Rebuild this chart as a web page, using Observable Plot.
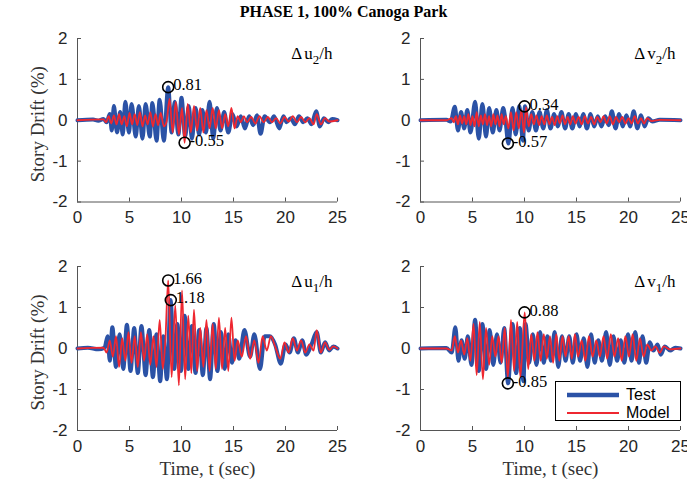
<!DOCTYPE html>
<html>
<head>
<meta charset="utf-8">
<script src="https://cdn.jsdelivr.net/npm/d3@7"></script>
<script src="https://cdn.jsdelivr.net/npm/@observablehq/plot@0.6"></script>
<style>
  html, body { margin: 0; padding: 0; background: #fff; }
  #chart { position: relative; width: 687px; height: 483px; overflow: hidden; background: #fff; }
  #title { position: absolute; left: 0; top: 3px; width: 687px; text-align: center;
           font: bold 16px 'Liberation Serif', 'Times New Roman', serif; color: #000; }
  .panel { position: absolute; }
  #legend { position: absolute; left: 555px; top: 381px; width: 124px; height: 38px;
            border: 1px solid #000; background: #fff; font: 16px 'Liberation Sans', Arial, sans-serif; color: #000; }
  #legend .row { position: absolute; left: 0; height: 18px; display: flex; align-items: center; }
  #legend svg { margin-left: 11px; margin-right: 7px; }
</style>
</head>
<body>
<div id="chart">
  <div id="title">PHASE 1, 100% Canoga Park</div>
</div>
<script>
// ---------------- data ----------------
const xTicks = [0, 5, 10, 15, 20, 25];
const yTicks = [-2, -1, 0, 1, 2];
const seriesNames = ["Test", "Model"];

// Δu2/h  [time (s), drift (%)]
const u2Test = [[0,0],[1.5,0.02],[2.0,-0.01],[2.5,0.03],[2.8,-0.05],[3.1,0.15],[3.3,-0.25],[3.5,0.35],[3.8,-0.3],[4.1,0.2],[4.35,-0.35],[4.6,0.45],[4.95,-0.3],[5.2,0.4],[5.6,-0.4],[5.9,0.35],[6.25,-0.45],[6.55,0.4],[6.95,-0.4],[7.2,0.42],[7.6,-0.5],[7.9,0.5],[8.3,-0.5],[8.72,0.81],[9.05,-0.3],[9.35,0.45],[9.7,-0.35],[10.0,0.55],[10.35,-0.4],[10.7,0.35],[11.0,-0.45],[11.35,0.3],[11.7,-0.35],[12.0,0.25],[12.35,-0.3],[12.7,0.45],[13.05,-0.45],[13.4,0.3],[13.75,-0.25],[14.1,0.2],[14.5,-0.3],[14.9,0.15],[15.3,-0.15],[15.7,0.1],[16.1,-0.2],[16.5,0.1],[16.9,-0.12],[17.25,0.12],[17.6,-0.33],[18.0,0.1],[18.5,-0.05],[18.9,0.1],[19.4,-0.2],[19.8,0.1],[20.1,-0.05],[20.5,0.05],[20.9,-0.1],[21.3,0.1],[21.7,-0.05],[22.1,0.05],[22.5,-0.1],[22.95,0.22],[23.3,-0.15],[23.7,0.05],[24.1,-0.05],[24.5,0.03],[25,0]];
const u2Model = [[0,0],[2.5,0.02],[2.75,-0.05],[3.0,0.1],[3.25,-0.08],[3.5,0.12],[3.75,-0.1],[4.0,0.15],[4.25,-0.1],[4.5,0.1],[4.75,-0.15],[5.0,0.18],[5.25,-0.1],[5.5,0.15],[5.75,-0.12],[6.0,0.2],[6.25,-0.15],[6.5,0.12],[6.75,-0.1],[7.0,0.2],[7.25,-0.15],[7.5,0.15],[7.75,-0.12],[8.0,0.18],[8.3,-0.15],[8.55,-0.05],[8.85,0.52],[9.15,-0.3],[9.45,0.45],[9.75,-0.35],[10.05,0.3],[10.3,-0.55],[10.6,0.4],[10.9,-0.3],[11.2,0.35],[11.5,-0.25],[11.8,0.3],[12.1,-0.3],[12.4,0.25],[12.7,-0.2],[13.0,0.3],[13.3,-0.2],[13.6,0.25],[13.9,-0.2],[14.2,0.15],[14.5,-0.15],[14.8,0.3],[15.1,-0.2],[15.4,0.1],[15.7,-0.05],[16.0,0.1],[16.3,-0.05],[16.7,0.08],[17.1,-0.08],[17.5,0.1],[17.9,-0.05],[18.3,0.08],[18.7,-0.05],[19.1,0.05],[19.5,-0.08],[19.9,0.08],[20.3,-0.03],[20.7,0.1],[21.1,-0.05],[21.5,0.08],[21.9,-0.05],[22.3,0.05],[22.7,-0.1],[23.0,0.15],[23.4,-0.1],[23.8,0.05],[24.2,-0.03],[25,0]];
const u2Peaks = [[8.72, 0.81], [10.3, -0.55]];

// Δv2/h
const v2Test = [[0,0],[2.5,0.01],[2.9,-0.03],[3.3,0.33],[3.6,-0.25],[3.9,0.2],[4.2,-0.2],[4.5,0.25],[4.8,-0.3],[5.25,0.45],[5.6,-0.45],[5.95,0.4],[6.3,-0.4],[6.6,0.3],[6.95,-0.3],[7.3,0.25],[7.6,-0.25],[7.95,0.3],[8.15,0.05],[8.45,-0.57],[8.85,0.3],[9.15,-0.35],[9.5,0.35],[9.85,-0.5],[10.05,0.34],[10.4,-0.25],[10.75,0.2],[11.1,-0.25],[11.45,0.2],[11.8,-0.2],[12.15,0.25],[12.5,-0.2],[12.85,0.15],[13.2,-0.15],[13.55,0.2],[13.9,-0.2],[14.25,0.15],[14.6,-0.2],[14.95,0.15],[15.3,-0.15],[15.65,0.15],[16.0,-0.2],[16.35,0.15],[16.7,-0.15],[17.05,0.1],[17.4,-0.15],[17.75,0.1],[18.1,-0.12],[18.4,0.22],[18.75,-0.2],[19.1,0.15],[19.45,-0.15],[19.8,0.12],[20.15,-0.15],[20.5,0.22],[20.85,-0.2],[21.2,0.12],[21.55,-0.15],[21.9,0.05],[22.3,-0.03],[23,0.01],[25,0]];
const v2Model = [[0,0],[2.5,0],[3.0,0.05],[3.2,-0.05],[3.4,0.1],[3.6,-0.1],[3.8,0.12],[4.0,-0.08],[4.2,0.1],[4.4,-0.1],[4.6,0.15],[4.8,-0.12],[5.0,0.1],[5.2,-0.15],[5.4,0.2],[5.6,-0.15],[5.8,0.12],[6.0,-0.1],[6.2,0.15],[6.4,-0.12],[6.6,0.1],[6.8,-0.15],[7.0,0.15],[7.2,-0.1],[7.4,0.12],[7.6,-0.15],[7.8,0.15],[8.0,-0.1],[8.2,0.1],[8.45,-0.2],[8.7,0.2],[8.95,-0.25],[9.2,0.2],[9.45,-0.2],[9.7,0.25],[9.95,-0.3],[10.15,0.32],[10.4,-0.15],[10.65,0.15],[10.9,-0.1],[11.15,0.12],[11.4,-0.12],[11.65,0.1],[11.9,-0.1],[12.15,0.12],[12.4,-0.1],[12.65,0.08],[12.9,-0.12],[13.15,0.1],[13.4,-0.08],[13.65,0.12],[13.9,-0.1],[14.15,0.08],[14.4,-0.1],[14.65,0.1],[14.9,-0.08],[15.2,0.08],[15.5,-0.1],[15.8,0.1],[16.1,-0.08],[16.4,0.08],[16.7,-0.1],[17.0,0.08],[17.3,-0.05],[17.6,0.1],[17.9,-0.08],[18.2,0.1],[18.5,-0.1],[18.8,0.08],[19.1,-0.05],[19.4,0.08],[19.7,-0.08],[20.0,0.05],[20.3,-0.08],[20.6,0.1],[20.9,-0.08],[21.2,0.05],[21.5,-0.08],[21.8,0.05],[22.2,-0.02],[23,0.01],[25,0]];
const v2Peaks = [[10.0, 0.34], [8.4, -0.57]];

// Δu1/h
const u1Test = [[0,0],[1,0.02],[2,-0.02],[2.6,0.02],[2.9,0.3],[3.1,-0.3],[3.35,0.52],[3.7,-0.45],[4.05,0.35],[4.4,-0.5],[4.75,0.58],[5.1,-0.55],[5.45,0.5],[5.8,-0.6],[6.15,0.55],[6.55,-0.65],[6.9,0.45],[7.25,-0.7],[7.6,0.35],[7.95,-0.8],[8.25,0.3],[8.6,-0.75],[8.95,1.18],[9.3,-0.5],[9.6,0.6],[9.95,-0.55],[10.3,0.8],[10.65,-0.5],[11.0,0.55],[11.35,-0.6],[11.7,0.45],[12.05,-0.65],[12.4,0.5],[12.75,-0.75],[13.1,0.6],[13.45,-0.55],[13.8,0.4],[14.15,-0.5],[14.5,0.35],[14.85,-0.35],[15.2,0.2],[15.55,-0.25],[16.05,0.45],[16.6,-0.2],[17.0,0.35],[17.55,-0.5],[18.0,0.3],[18.5,0.3],[19.0,0.1],[19.55,-0.37],[20.0,0.1],[20.4,-0.1],[20.8,0.25],[21.2,-0.1],[21.6,0.2],[22.0,-0.15],[22.5,0.1],[23.0,0.4],[23.4,-0.1],[23.8,0.15],[24.2,-0.05],[24.6,0.05],[25,0]];
const u1Model = [[0,0],[2.5,0.02],[2.8,-0.1],[3.1,0.2],[3.4,-0.2],[3.7,0.3],[4.0,-0.45],[4.3,0.25],[4.6,-0.3],[4.9,0.4],[5.2,-0.35],[5.5,0.3],[5.8,-0.45],[6.1,0.4],[6.4,-0.3],[6.7,0.35],[7.0,-0.4],[7.3,0.3],[7.6,-0.45],[7.9,0.7],[8.2,-0.5],[8.45,0.2],[8.72,1.66],[9.05,-0.7],[9.4,1.05],[9.75,-0.9],[10.05,1.42],[10.35,-0.75],[10.65,0.8],[10.95,-0.6],[11.2,0.95],[11.5,-0.55],[11.8,0.5],[12.1,-0.45],[12.4,0.7],[12.7,-0.55],[13.0,0.6],[13.3,-0.5],[13.6,0.75],[13.9,-0.5],[14.2,0.5],[14.5,-0.55],[14.8,0.75],[15.1,-0.3],[15.4,0.2],[15.8,-0.2],[16.2,0.3],[16.6,-0.25],[17.0,0.2],[17.4,-0.35],[17.8,0.3],[18.2,-0.05],[18.6,0.3],[19.0,0.05],[19.5,-0.25],[19.9,0.15],[20.3,-0.1],[20.7,0.25],[21.1,-0.05],[21.5,0.2],[21.9,-0.1],[22.3,0.1],[22.7,-0.05],[23.0,0.45],[23.4,-0.1],[23.8,0.15],[24.2,-0.03],[24.6,0.05],[25,0]];
const u1Peaks = [[8.72, 1.66], [8.97, 1.18]];

// Δv1/h
const v1Test = [[0,0],[2.5,0.01],[3.0,-0.1],[3.35,0.52],[3.65,-0.3],[3.95,0.2],[4.25,-0.25],[4.55,0.3],[4.9,-0.4],[5.25,0.7],[5.6,-0.55],[5.95,0.6],[6.3,-0.5],[6.65,0.45],[7.0,-0.4],[7.35,0.35],[7.7,-0.35],[8.05,0.5],[8.42,-0.85],[8.85,0.6],[9.2,-0.6],[9.55,0.5],[9.9,-0.8],[10.1,0.6],[10.45,-0.35],[10.8,0.35],[11.15,-0.4],[11.5,0.4],[11.85,-0.35],[12.2,0.3],[12.55,-0.3],[12.9,0.4],[13.25,-0.45],[13.6,0.3],[13.95,-0.3],[14.3,0.3],[14.65,-0.35],[15.0,0.35],[15.35,-0.3],[15.7,0.25],[16.05,-0.45],[16.4,0.35],[16.75,-0.35],[17.1,0.2],[17.45,-0.3],[17.85,0.4],[18.2,-0.4],[18.55,0.3],[18.9,-0.3],[19.25,0.2],[19.6,-0.35],[19.95,0.35],[20.3,-0.3],[20.65,0.4],[21.0,-0.35],[21.35,0.3],[21.7,-0.35],[22.05,0.15],[22.4,-0.05],[22.8,0.1],[23.1,-0.15],[23.5,0.05],[24,-0.05],[24.5,0.02],[25,0]];
const v1Model = [[0,0],[2.5,0],[3.0,-0.05],[3.3,0.3],[3.6,-0.1],[3.9,0.2],[4.2,-0.15],[4.5,0.25],[4.8,-0.3],[5.1,0.6],[5.4,-0.65],[5.7,0.65],[6.0,-0.75],[6.3,0.5],[6.6,-0.4],[6.9,0.3],[7.2,-0.2],[7.5,0.3],[7.8,-0.35],[8.1,0.5],[8.4,-0.7],[8.7,0.7],[9.0,-0.55],[9.3,0.65],[9.6,-0.7],[10.02,0.88],[10.35,-0.5],[10.65,0.35],[10.95,-0.3],[11.25,0.4],[11.55,-0.3],[11.85,0.35],[12.15,-0.25],[12.45,0.3],[12.75,-0.35],[13.05,0.35],[13.35,-0.3],[13.65,0.3],[13.95,-0.2],[14.25,0.3],[14.55,-0.25],[14.85,0.35],[15.15,-0.2],[15.5,0.2],[15.85,-0.3],[16.2,0.3],[16.55,-0.2],[16.9,0.2],[17.25,-0.2],[17.6,0.3],[17.95,-0.25],[18.3,0.35],[18.65,-0.2],[19.0,0.25],[19.35,-0.3],[19.7,0.3],[20.05,-0.2],[20.4,0.35],[20.75,-0.3],[21.1,0.25],[21.45,-0.2],[21.8,0.1],[22.2,-0.05],[22.6,0.05],[23.0,-0.1],[23.4,0.05],[24,-0.02],[25,0]];
const v1Peaks = [[10.0, 0.88], [8.4, -0.85]];

const panelLabels = { u2: ["Δ", "u", "2", "/h"], v2: ["Δ", "v", "2", "/h"], u1: ["Δ", "u", "1", "/h"], v1: ["Δ", "v", "1", "/h"] };

// ---------------- drawing ----------------
const SERIF = "'Liberation Serif', 'Times New Roman', serif";
const SANS = "'Liberation Sans', Arial, sans-serif";
const BLUE = "#2b52a6";
const RED = "#ee2730";
const AXIS = "#555";
const fmtPeak = d => d.toFixed(2);   // keeps ASCII hyphen-minus like the reference
const fmtTick = d => String(d);

const panels = [
  { key: "u2", test: u2Test, model: u2Model, peaks: u2Peaks, left: 0,   top: 22,  width: 343, height: 222, ml: 77, mr: 6, mt: 16, mb: 42.5, ylab: true,  xlab: false },
  { key: "v2", test: v2Test, model: v2Model, peaks: v2Peaks, left: 343, top: 22,  width: 344, height: 222, ml: 77, mr: 7, mt: 16, mb: 42.5, ylab: false, xlab: false },
  { key: "u1", test: u1Test, model: u1Model, peaks: u1Peaks, left: 0,   top: 244, width: 343, height: 239, ml: 77, mr: 6, mt: 22, mb: 53,   ylab: true,  xlab: true },
  { key: "v1", test: v1Test, model: v1Model, peaks: v1Peaks, left: 343, top: 244, width: 344, height: 239, ml: 77, mr: 7, mt: 22, mb: 53,   ylab: false, xlab: true }
];

const chart = document.getElementById("chart");

for (const p of panels) {
  const innerW = p.width - p.ml - p.mr;
  const innerH = p.height - p.mt - p.mb;
  const lab = panelLabels[p.key];
  const labelStr = lab.join("");
  const marks = [
    Plot.ruleX([0], { stroke: AXIS, strokeWidth: 1 }),
    Plot.ruleY([-2], { stroke: AXIS, strokeWidth: 1 }),
    Plot.tickX(xTicks, { x: d => d, insetTop: innerH - 4, stroke: AXIS, strokeWidth: 1 }),
    Plot.tickY(yTicks, { y: d => d, insetRight: innerW - 4, stroke: AXIS, strokeWidth: 1 }),
    Plot.axisX(xTicks, { tickSize: 0, tickPadding: 9, tickFormat: fmtTick, fontSize: 17, fontFamily: SANS, fill: "#262626", label: null }),
    Plot.axisY(yTicks, { tickSize: 0, tickPadding: 10, tickFormat: fmtTick, fontSize: 17, fontFamily: SANS, fill: "#262626", label: null }),
    Plot.line(p.test, { x: d => d[0], y: d => d[1], stroke: BLUE, strokeWidth: 4, curve: "monotone-x", strokeLinejoin: "round" }),
    Plot.line(p.model, { x: d => d[0], y: d => d[1], stroke: RED, strokeWidth: 1.8, curve: "monotone-x", strokeLinejoin: "round" }),
    Plot.dot(p.peaks, { x: d => d[0], y: d => d[1], r: 5.5, stroke: "#000", strokeWidth: 1.6, fill: "none" }),
    Plot.text(p.peaks, { x: d => d[0], y: d => d[1], text: d => fmtPeak(d[1]), textAnchor: "start", dx: 5, dy: -2, fontSize: 16.5, fontFamily: SERIF, fill: "#000" }),
    Plot.text([labelStr], { frameAnchor: "top-right", text: d => d, textAnchor: "end", lineAnchor: "top", dx: -5, dy: 8, fontSize: 17, fontFamily: SERIF, fill: "#000" })
  ];
  if (p.ylab) marks.push(Plot.text(["Story Drift (%)"], { frameAnchor: "left", text: d => d, rotate: -90, dx: -40, dy: 4, textAnchor: "middle", lineAnchor: "middle", fontSize: 19, fontFamily: SERIF, fill: "#333" }));
  if (p.xlab) marks.push(Plot.text(["Time, t (sec)"], { frameAnchor: "bottom", text: d => d, dy: 38, textAnchor: "middle", lineAnchor: "middle", fontSize: 19, fontFamily: SERIF, fill: "#333" }));

  const svg = Plot.plot({
    width: p.width, height: p.height,
    marginLeft: p.ml, marginRight: p.mr, marginTop: p.mt, marginBottom: p.mb,
    x: { domain: [0, 25] },
    y: { domain: [-2, 2] },
    style: { background: "transparent", overflow: "visible" },
    marks
  });
  svg.classList.add("panel");
  svg.style.left = p.left + "px";
  svg.style.top = p.top + "px";

  // subscript in panel label
  d3.select(svg).selectAll("text").filter(function () { return this.textContent === labelStr; }).each(function () {
    const t = d3.select(this);
    t.text(null);
    t.append("tspan").text(lab[0]);
    t.append("tspan").attr("dx", 2).text(lab[1]);
    t.append("tspan").attr("dy", 5).attr("font-size", 13).text(lab[2]);
    t.append("tspan").attr("dy", -5).text(lab[3]);
  });
  chart.appendChild(svg);
}

// legend
const legend = document.createElement("div");
legend.id = "legend";
const legendStyles = [{ stroke: BLUE, w: 4.5 }, { stroke: RED, w: 1.8 }];
seriesNames.forEach((name, i) => {
  const row = document.createElement("div");
  row.className = "row";
  row.style.top = (4 + i * 18) + "px";
  const s = d3.create("svg").attr("width", 52).attr("height", 10);
  s.append("line").attr("x1", 0).attr("x2", 52).attr("y1", 5).attr("y2", 5)
    .attr("stroke", legendStyles[i].stroke).attr("stroke-width", legendStyles[i].w);
  row.appendChild(s.node());
  const span = document.createElement("span");
  span.textContent = name;
  row.appendChild(span);
  legend.appendChild(row);
});
chart.appendChild(legend);
</script>
</body>
</html>
